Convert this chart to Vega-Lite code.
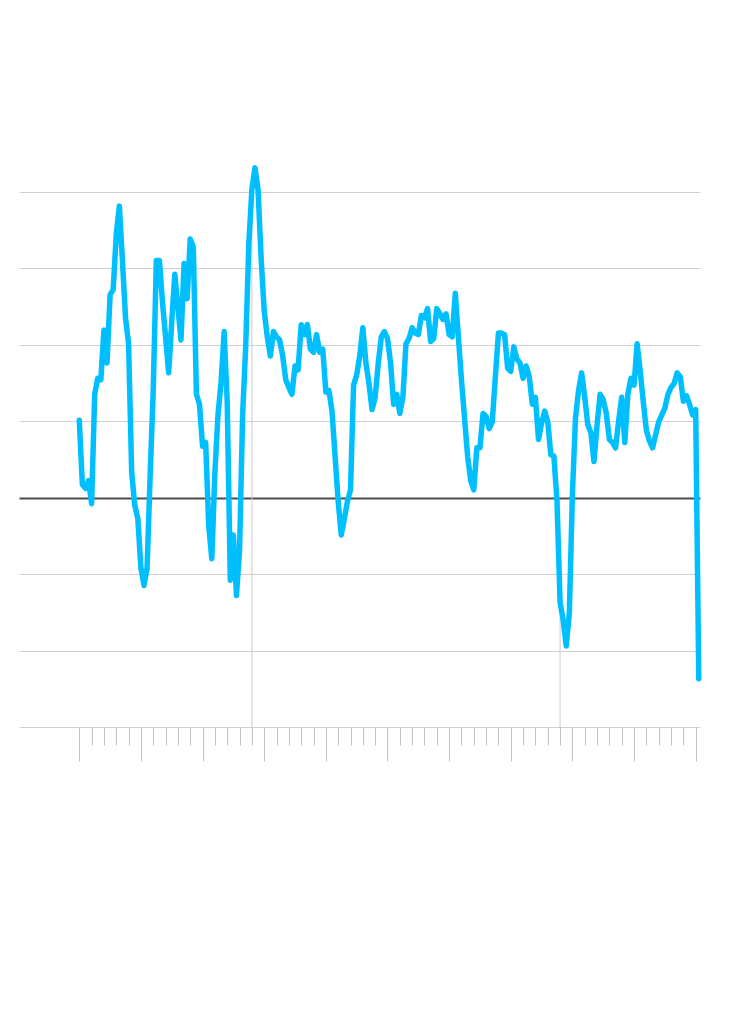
{
  "$schema": "https://vega.github.io/schema/vega-lite/v6.json",
  "autosize": {"type": "none"},
  "padding": {"left": 19, "top": 161, "right": 50, "bottom": 301},
  "width": 681,
  "height": 566,
  "background": "white",
  "config": {"view": {"stroke": null}},
  "datasets": {
    "series": [
      {"t":1970.00,"v":1.01},{"t":1970.25,"v":0.17},{"t":1970.50,"v":0.12},{"t":1970.75,"v":0.22},
      {"t":1971.00,"v":-0.08},{"t":1971.25,"v":1.35},{"t":1971.50,"v":1.56},{"t":1971.75,"v":1.54},
      {"t":1972.00,"v":2.19},{"t":1972.25,"v":1.76},{"t":1972.50,"v":2.65},{"t":1972.75,"v":2.72},
      {"t":1973.00,"v":3.44},{"t":1973.25,"v":3.81},{"t":1973.50,"v":3.10},{"t":1973.75,"v":2.35},
      {"t":1974.00,"v":2.01},{"t":1974.25,"v":0.33},{"t":1974.50,"v":-0.10},{"t":1974.75,"v":-0.28},
      {"t":1975.00,"v":-0.92},{"t":1975.25,"v":-1.15},{"t":1975.50,"v":-0.92},{"t":1975.75,"v":0.30},
      {"t":1976.00,"v":1.40},{"t":1976.25,"v":3.10},{"t":1976.50,"v":3.10},{"t":1976.75,"v":2.55},
      {"t":1977.00,"v":2.10},{"t":1977.25,"v":1.63},{"t":1977.50,"v":2.30},{"t":1977.75,"v":2.92},
      {"t":1978.00,"v":2.49},{"t":1978.25,"v":2.06},{"t":1978.50,"v":3.06},{"t":1978.75,"v":2.60},
      {"t":1979.00,"v":3.38},{"t":1979.25,"v":3.28},{"t":1979.50,"v":1.35},{"t":1979.75,"v":1.22},
      {"t":1980.00,"v":0.67},{"t":1980.25,"v":0.72},{"t":1980.50,"v":-0.37},{"t":1980.75,"v":-0.80},
      {"t":1981.00,"v":0.32},{"t":1981.25,"v":1.08},{"t":1981.50,"v":1.50},{"t":1981.75,"v":2.17},
      {"t":1982.00,"v":1.25},{"t":1982.25,"v":-1.08},{"t":1982.50,"v":-0.49},{"t":1982.75,"v":-1.28},
      {"t":1983.00,"v":-0.69},{"t":1983.25,"v":1.08},{"t":1983.50,"v":1.98},{"t":1983.75,"v":3.31},
      {"t":1984.00,"v":4.03},{"t":1984.25,"v":4.31},{"t":1984.50,"v":4.03},{"t":1984.75,"v":3.13},
      {"t":1985.00,"v":2.44},{"t":1985.25,"v":2.10},{"t":1985.50,"v":1.85},{"t":1985.75,"v":2.17},
      {"t":1986.00,"v":2.10},{"t":1986.25,"v":2.06},{"t":1986.50,"v":1.85},{"t":1986.75,"v":1.54},
      {"t":1987.00,"v":1.44},{"t":1987.25,"v":1.35},{"t":1987.50,"v":1.72},{"t":1987.75,"v":1.67},
      {"t":1988.00,"v":2.26},{"t":1988.25,"v":2.13},{"t":1988.50,"v":2.26},{"t":1988.75,"v":1.94},
      {"t":1989.00,"v":1.90},{"t":1989.25,"v":2.13},{"t":1989.50,"v":1.90},{"t":1989.75,"v":1.94},
      {"t":1990.00,"v":1.38},{"t":1990.25,"v":1.40},{"t":1990.50,"v":1.13},{"t":1990.75,"v":0.54},
      {"t":1991.00,"v":-0.05},{"t":1991.25,"v":-0.49},{"t":1991.50,"v":-0.28},{"t":1991.75,"v":-0.05},
      {"t":1992.00,"v":0.10},{"t":1992.25,"v":1.47},{"t":1992.50,"v":1.60},{"t":1992.75,"v":1.85},
      {"t":1993.00,"v":2.22},{"t":1993.25,"v":1.76},{"t":1993.50,"v":1.49},{"t":1993.75,"v":1.15},
      {"t":1994.00,"v":1.31},{"t":1994.25,"v":1.75},{"t":1994.50,"v":2.10},{"t":1994.75,"v":2.17},
      {"t":1995.00,"v":2.08},{"t":1995.25,"v":1.76},{"t":1995.50,"v":1.22},{"t":1995.75,"v":1.35},
      {"t":1996.00,"v":1.10},{"t":1996.25,"v":1.31},{"t":1996.50,"v":2.01},{"t":1996.75,"v":2.08},
      {"t":1997.00,"v":2.22},{"t":1997.25,"v":2.15},{"t":1997.50,"v":2.13},{"t":1997.75,"v":2.38},
      {"t":1998.00,"v":2.35},{"t":1998.25,"v":2.47},{"t":1998.50,"v":2.04},{"t":1998.75,"v":2.08},
      {"t":1999.00,"v":2.47},{"t":1999.25,"v":2.40},{"t":1999.50,"v":2.33},{"t":1999.75,"v":2.40},
      {"t":2000.00,"v":2.13},{"t":2000.25,"v":2.10},{"t":2000.50,"v":2.67},{"t":2000.75,"v":2.10},
      {"t":2001.00,"v":1.54},{"t":2001.25,"v":1.04},{"t":2001.50,"v":0.54},{"t":2001.75,"v":0.22},
      {"t":2002.00,"v":0.10},{"t":2002.25,"v":0.65},{"t":2002.50,"v":0.65},{"t":2002.75,"v":1.10},
      {"t":2003.00,"v":1.06},{"t":2003.25,"v":0.90},{"t":2003.50,"v":0.99},{"t":2003.75,"v":1.58},
      {"t":2004.00,"v":2.15},{"t":2004.25,"v":2.15},{"t":2004.50,"v":2.13},{"t":2004.75,"v":1.69},
      {"t":2005.00,"v":1.65},{"t":2005.25,"v":1.97},{"t":2005.50,"v":1.81},{"t":2005.75,"v":1.76},
      {"t":2006.00,"v":1.56},{"t":2006.25,"v":1.72},{"t":2006.50,"v":1.58},{"t":2006.75,"v":1.22},
      {"t":2007.00,"v":1.31},{"t":2007.25,"v":0.76},{"t":2007.50,"v":0.97},{"t":2007.75,"v":1.13},
      {"t":2008.00,"v":0.99},{"t":2008.25,"v":0.56},{"t":2008.50,"v":0.54},{"t":2008.75,"v":-0.05},
      {"t":2009.00,"v":-1.37},{"t":2009.25,"v":-1.60},{"t":2009.50,"v":-1.94},{"t":2009.75,"v":-1.51},
      {"t":2010.00,"v":0.04},{"t":2010.25,"v":1.04},{"t":2010.50,"v":1.40},{"t":2010.75,"v":1.63},
      {"t":2011.00,"v":1.31},{"t":2011.25,"v":0.95},{"t":2011.50,"v":0.85},{"t":2011.75,"v":0.47},
      {"t":2012.00,"v":0.95},{"t":2012.25,"v":1.35},{"t":2012.50,"v":1.28},{"t":2012.75,"v":1.10},
      {"t":2013.00,"v":0.76},{"t":2013.25,"v":0.72},{"t":2013.50,"v":0.65},{"t":2013.75,"v":1.00},
      {"t":2014.00,"v":1.31},{"t":2014.25,"v":0.72},{"t":2014.50,"v":1.35},{"t":2014.75,"v":1.56},
      {"t":2015.00,"v":1.47},{"t":2015.25,"v":2.01},{"t":2015.50,"v":1.65},{"t":2015.75,"v":1.25},
      {"t":2016.00,"v":0.88},{"t":2016.25,"v":0.74},{"t":2016.50,"v":0.65},{"t":2016.75,"v":0.82},
      {"t":2017.00,"v":0.99},{"t":2017.25,"v":1.08},{"t":2017.50,"v":1.17},{"t":2017.75,"v":1.35},
      {"t":2018.00,"v":1.44},{"t":2018.25,"v":1.49},{"t":2018.50,"v":1.63},{"t":2018.75,"v":1.58},
      {"t":2019.00,"v":1.26},{"t":2019.25,"v":1.33},{"t":2019.50,"v":1.22},{"t":2019.75,"v":1.08},
      {"t":2020.00,"v":1.15},{"t":2020.25,"v":-2.37}
    ],
    "markers": [
      {"t":1984.00,"v":4.03},
      {"t":2009.00,"v":-1.37}
    ]
  },
  "encoding": {
    "x": {
      "field": "t",
      "type": "quantitative",
      "scale": {"domain": [1965.11, 2020.35], "nice": false, "zero": false},
      "axis": {
        "values": [1970,1971,1972,1973,1974,1975,1976,1977,1978,1979,1980,1981,1982,1983,1984,1985,1986,1987,1988,1989,1990,1991,1992,1993,1994,1995,1996,1997,1998,1999,2000,2001,2002,2003,2004,2005,2006,2007,2008,2009,2010,2011,2012,2013,2014,2015,2016,2017,2018,2019,2020],
        "labels": false,
        "title": null,
        "grid": false,
        "domain": false,
        "tickColor": "#c4c4c4",
        "tickWidth": 1,
        "tickSize": {"condition": {"test": "datum.value % 5 === 0", "value": 34}, "value": 18}
      }
    },
    "y": {
      "field": "v",
      "type": "quantitative",
      "scale": {"domain": [-3, 4.4], "nice": false, "zero": false},
      "axis": {
        "values": [-3,-2,-1,0,1,2,3,4],
        "labels": false,
        "ticks": false,
        "domain": false,
        "title": null,
        "grid": true,
        "gridColor": {"condition": {"test": "datum.value === 0", "value": "#4d4d4d"}, "value": "#d0d0d0"},
        "gridWidth": {"condition": {"test": "datum.value === 0", "value": 2}, "value": 1}
      }
    }
  },
  "layer": [
    {
      "data": {"name": "markers"},
      "mark": {"type": "rule", "color": "#cccccc", "strokeWidth": 1},
      "encoding": {"y2": {"datum": -3}}
    },
    {
      "data": {"name": "series"},
      "mark": {"type": "line", "color": "#00bfff", "strokeWidth": 5.5, "strokeJoin": "round", "strokeCap": "round"}
    }
  ]
}
